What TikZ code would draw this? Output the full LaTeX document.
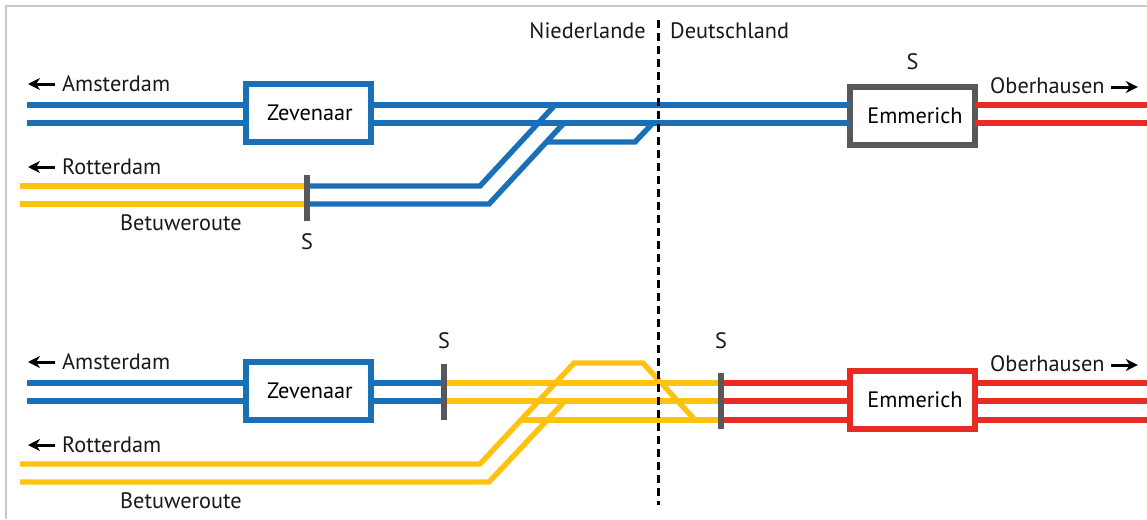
\documentclass[tikz,border=0pt]{standalone}
\usepackage{fontspec}
\setmainfont{PT Sans}
\usetikzlibrary{arrows.meta}
\definecolor{tblue}{HTML}{1A70B8}
\definecolor{tyellow}{HTML}{FFC20E}
\definecolor{tred}{HTML}{E92B26}
\definecolor{tgrey}{HTML}{58585A}
\definecolor{tframe}{HTML}{C9C9C9}
\tikzset{
  track/.style={line width=5.4pt,line join=miter},
  bluetrack/.style={track,draw=tblue},
  yellowtrack/.style={track,draw=tyellow},
  redtrack/.style={track,draw=tred},
  station/.style={draw,fill=white,line width=5.4pt,outer sep=0pt,inner sep=0pt,minimum width=125pt,minimum height=58pt,font=\fontsize{22.3}{26}\selectfont},
  label/.style={inner sep=0pt,font=\fontsize{22.3}{26}\selectfont,text=black!90},
  signalbar/.style={draw=tgrey,line width=5.4pt},
  dirarrow/.style={-{Stealth[length=12pt,width=12pt]},line width=3pt,black},
  border/.style={draw=black,line width=2.5pt,dash pattern=on 8pt off 5pt}
}
\begin{document}
\begin{tikzpicture}[x=1pt,y=-1pt]
\useasboundingbox (0,0) rectangle (1147,519);
\fill[white] (0,0) rectangle (1147,519);
\draw[tframe,line width=2pt] (6,519) -- (6,6) -- (1147,6);

% ---------- upper diagram ----------
\node[station,draw=tblue] (zevA) at (308.5,113) {\hspace*{3pt}\raisebox{-1pt}{Zevenaar}};
\node[station,draw=tgrey] (emmA) at (912.5,116) {\hspace*{5pt}Emmerich};
\coordinate (aA1) at (27,105);
\coordinate (aA2) at (27,123);
\coordinate (oA1) at (1147,105);
\coordinate (oA2) at (1147,123);
\coordinate (rA1) at (20,186);
\coordinate (rA2) at (20,204);
\coordinate (sA1) at (307,186);
\coordinate (sA2) at (307,204);
\coordinate (sAt) at (307,175);
\coordinate (sAb) at (307,221);
\coordinate (bendA1) at (480,186);
\coordinate (bendA2) at (489,204);
\coordinate (joinA1) at (555,105);
\coordinate (joinA2) at (564,123);
\coordinate (xA1) at (547,142);
\coordinate (xA2) at (635,142);
\coordinate (xA3) at (653,123);

\draw[bluetrack] (aA1) -- (aA1 -| zevA.west);
\draw[bluetrack] (aA2) -- (aA2 -| zevA.west);
\draw[bluetrack] (aA1 -| zevA.east) -- (aA1 -| emmA.west);
\draw[bluetrack] (aA2 -| zevA.east) -- (aA2 -| emmA.west);
\draw[redtrack] (oA1 -| emmA.east) -- (oA1);
\draw[redtrack] (oA2 -| emmA.east) -- (oA2);
\draw[yellowtrack] (rA1) -- (sA1);
\draw[yellowtrack] (rA2) -- (sA2);
\draw[bluetrack] (sA1) -- (bendA1) -- (joinA1);
\draw[bluetrack] (sA2) -- (bendA2) -- (joinA2);
\draw[bluetrack] (xA1) -- (xA2) -- (xA3);
\draw[signalbar] (sAt) -- (sAb);

% ---------- lower diagram ----------
\node[station,draw=tblue] (zevB) at (308.5,391) {\hspace*{3pt}\raisebox{-1pt}{Zevenaar}};
\node[station,draw=tred] (emmB) at (912.5,400) {\hspace*{5pt}Emmerich};
\coordinate (aB1) at (27,383);
\coordinate (aB2) at (27,401);
\coordinate (oB1) at (1147,383);
\coordinate (oB2) at (1147,401);
\coordinate (oB3) at (1147,420);
\coordinate (sB1) at (444,383);
\coordinate (sB2) at (444,401);
\coordinate (sBt) at (444,364);
\coordinate (sBb) at (444,420);
\coordinate (tB1) at (721,383);
\coordinate (tB2) at (721,401);
\coordinate (tB3) at (721,420);
\coordinate (tBt) at (721,373);
\coordinate (tBb) at (721,429);
\coordinate (xB0) at (522,420);
\coordinate (rB1) at (20,464);
\coordinate (rB2) at (20,482);
\coordinate (bendB1) at (480,464);
\coordinate (bendB2) at (489,482);
\coordinate (topB1) at (574,363);
\coordinate (topB2) at (643,363);
\coordinate (endB1) at (695,420);
\coordinate (joinB2) at (565,401);

\draw[bluetrack] (aB1) -- (aB1 -| zevB.west);
\draw[bluetrack] (aB2) -- (aB2 -| zevB.west);
\draw[bluetrack] (aB1 -| zevB.east) -- (sB1);
\draw[bluetrack] (aB2 -| zevB.east) -- (sB2);
\draw[redtrack] (tB1) -- (tB1 -| emmB.west);
\draw[redtrack] (tB2) -- (tB2 -| emmB.west);
\draw[redtrack] (tB3) -- (tB3 -| emmB.west);
\draw[redtrack] (oB1 -| emmB.east) -- (oB1);
\draw[redtrack] (oB2 -| emmB.east) -- (oB2);
\draw[redtrack] (oB3 -| emmB.east) -- (oB3);
\draw[yellowtrack] (sB1) -- (tB1);
\draw[yellowtrack] (sB2) -- (tB2);
\draw[yellowtrack] (xB0) -- (tB3);
\draw[yellowtrack] (rB1) -- (bendB1) -- (topB1) -- (topB2) -- (endB1);
\draw[yellowtrack] (rB2) -- (bendB2) -- (joinB2);
\draw[signalbar] (sBt) -- (sBb);
\draw[signalbar] (tBt) -- (tBb);

% ---------- border ----------
\coordinate (bordT) at (658.5,20);
\coordinate (bordB) at (658.5,505);
\draw[border] (bordT) -- (bordB);
\node[label,anchor=base east] (nl) at (646,39) {Niederlande};
\node[label,anchor=base west] (de) at (670,39) {Deutschland};

% ---------- labels upper ----------
\node[label,anchor=base west] (lA1) at (62,91) {Amsterdam};
\node[label,anchor=base west] (lA2) at (62,174) {Rotterdam};
\node[label,anchor=base west] (lA3) at (120,230) {Betuweroute};
\node[label,anchor=base] (lA4) at (307,249) {S};
\node[label,anchor=base] (lA5) at (912.5,70) {S};
\node[label,anchor=base west] (lA6) at (990,93) {Oberhausen};
\draw[dirarrow] (lA1.west |- 0,84) ++(-7,0) coordinate (arA1s) -- ++(-27,0);
\draw[dirarrow] (lA2.west |- 0,167) ++(-7,0) coordinate (arA2s) -- ++(-27,0);
\draw[dirarrow] (lA6.east |- 0,87) ++(6,0) coordinate (arA3s) -- ++(27,0);

% ---------- labels lower ----------
\node[label,anchor=base west] (lB1) at (62,369) {Amsterdam};
\node[label,anchor=base west] (lB2) at (62,452) {Rotterdam};
\node[label,anchor=base west] (lB3) at (120,508) {Betuweroute};
\node[label,anchor=base] (lB4) at (444,348) {S};
\node[label,anchor=base] (lB5) at (721,348) {S};
\node[label,anchor=base west] (lB6) at (990,371) {Oberhausen};
\draw[dirarrow] (lB1.west |- 0,362) ++(-7,0) coordinate (arB1s) -- ++(-27,0);
\draw[dirarrow] (lB2.west |- 0,445) ++(-7,0) coordinate (arB2s) -- ++(-27,0);
\draw[dirarrow] (lB6.east |- 0,365) ++(6,0) coordinate (arB3s) -- ++(27,0);
\end{tikzpicture}
\end{document}
